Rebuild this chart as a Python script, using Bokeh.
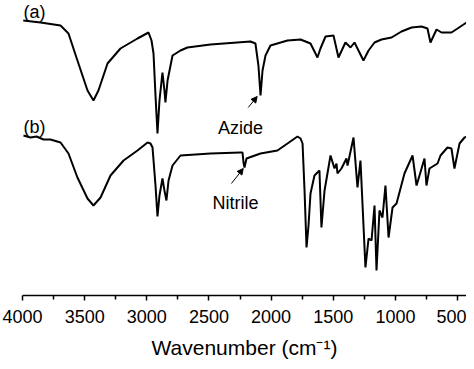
from bokeh.plotting import figure
from bokeh.models import Range1d, FixedTicker, Arrow, NormalHead, Label
from bokeh.embed import file_html
from bokeh.resources import INLINE

# FTIR spectra, wavenumber (cm-1) vs transmittance (a.u.)
wn_a = [3994, 3855, 3694, 3630, 3558, 3477, 3429, 3389, 3316, 3212, 3075, 2986, 2962,
        2946, 2930, 2914, 2898, 2874, 2858, 2850, 2833, 2793, 2729, 2673, 2488, 2166,
        2126, 2102, 2085, 2069, 2045, 2005, 1868, 1763, 1683, 1627, 1603, 1562, 1498,
        1458, 1402, 1361, 1329, 1297, 1257, 1216, 1168, 1112, 1031, 951, 870, 790, 742,
        718, 669, 629, 549, 500, 404]
t_a = [275, 273, 270, 262, 235, 205, 195, 205, 232, 247, 257, 263, 255,
       242, 200, 162, 195, 223, 205, 193, 215, 240, 245, 248, 251, 254,
       252, 230, 200, 225, 240, 250, 255, 256, 252, 238, 247, 259, 260,
       238, 253, 248, 253, 245, 235, 245, 253, 256, 258, 264, 268, 269, 267,
       253, 266, 263, 263, 267, 275]

wn_b = [3992, 3936, 3887, 3831, 3775, 3694, 3630, 3558, 3477, 3429, 3372, 3292, 3187,
        3075, 2994, 2970, 2954, 2930, 2914, 2898, 2874, 2858, 2842, 2825, 2793, 2729,
        2488, 2246, 2230, 2222, 2214, 2198, 2085, 1949, 1868, 1788, 1763, 1747, 1731,
        1715, 1699, 1683, 1651, 1611, 1595, 1570, 1522, 1490, 1474, 1466, 1434, 1394,
        1385, 1337, 1305, 1281, 1241, 1216, 1192, 1168, 1152, 1128, 1104, 1080, 1055,
        1023, 991, 927, 862, 830, 806, 766, 750, 726, 661, 637, 581, 549, 525, 484,
        444, 396]
t_b = [160, 158, 159, 156, 156, 153, 142, 118, 97, 90, 98, 120, 135,
       145, 153, 152, 148, 110, 79, 100, 117, 105, 95, 115, 130, 140,
       142, 143, 143, 133, 128, 137, 142, 145, 152, 159, 157, 152, 105,
       48, 70, 102, 120, 125, 68, 105, 140, 127, 132, 122, 127, 137,
       130, 158, 108, 135, 28, 57, 55, 90, 25, 85, 78, 110, 58,
       88, 92, 122, 140, 110, 120, 137, 110, 127, 132, 140, 148, 147, 127, 152,
       158, 160]

major_ticks = [4000, 3500, 3000, 2500, 2000, 1500, 1000, 500]
minor_ticks = [3750, 3250, 2750, 2250, 1750, 1250, 750]
x_title = "Wavenumber (cm\u207b\u00b9)"

# annotations: (text, wn, T) and arrows (wn_start, T_start, wn_end, T_end)
panel_labels = [("(a)", 3992, 284), ("(b)", 3992, 169)]
band_labels = [("Azide", 2246, 168), ("Nitrile", 2286, 93)]
band_arrows = [(2184, 188, 2112, 199), (2319, 112, 2224, 127)]

FONT = "Liberation Sans"

p = figure(width=466, height=361, output_backend="svg", toolbar_location=None,
           x_range=Range1d(4000, 428), y_range=Range1d(0, 295),
           y_axis_location=None, min_border_left=22, min_border_right=0,
           min_border_top=0, min_border_bottom=66)
p.outline_line_color = None
p.xgrid.visible = False
p.ygrid.visible = False
p.background_fill_color = "white"
p.border_fill_color = "white"

p.line(wn_a, t_a, line_color="black", line_width=2)
p.line(wn_b, t_b, line_color="black", line_width=2)

ax = p.xaxis[0]
ax.ticker = FixedTicker(ticks=major_ticks, minor_ticks=minor_ticks)
ax.axis_line_color = "black"
ax.axis_line_width = 1.5
ax.major_tick_line_color = "black"
ax.major_tick_line_width = 1.5
ax.minor_tick_line_color = "black"
ax.minor_tick_line_width = 1.5
ax.major_tick_in = 0
ax.major_tick_out = 5
ax.minor_tick_in = 0
ax.minor_tick_out = 4
ax.major_label_text_font = FONT
ax.major_label_text_font_size = "18px"
ax.major_label_text_color = "black"
ax.major_label_standoff = 9
ax.axis_label = x_title
ax.axis_label_text_font = FONT
ax.axis_label_text_font_size = "21px"
ax.axis_label_text_font_style = "normal"
ax.axis_label_text_color = "black"
ax.axis_label_standoff = 10

for txt, x, y in panel_labels:
    p.add_layout(Label(x=x, y=y, text=txt, text_font=FONT, text_font_size="18px",
                       text_align="left", text_baseline="alphabetic", text_color="black"))
for txt, x, y in band_labels:
    p.add_layout(Label(x=x, y=y, text=txt, text_font=FONT, text_font_size="18px",
                       text_align="center", text_baseline="alphabetic", text_color="black"))
for x0, y0, x1, y1 in band_arrows:
    p.add_layout(Arrow(x_start=x0, y_start=y0, x_end=x1, y_end=y1, line_width=1,
                       line_color="black",
                       end=NormalHead(size=6, fill_color="black", line_color="black")))

open("out.html", "w").write(file_html(p, INLINE))
